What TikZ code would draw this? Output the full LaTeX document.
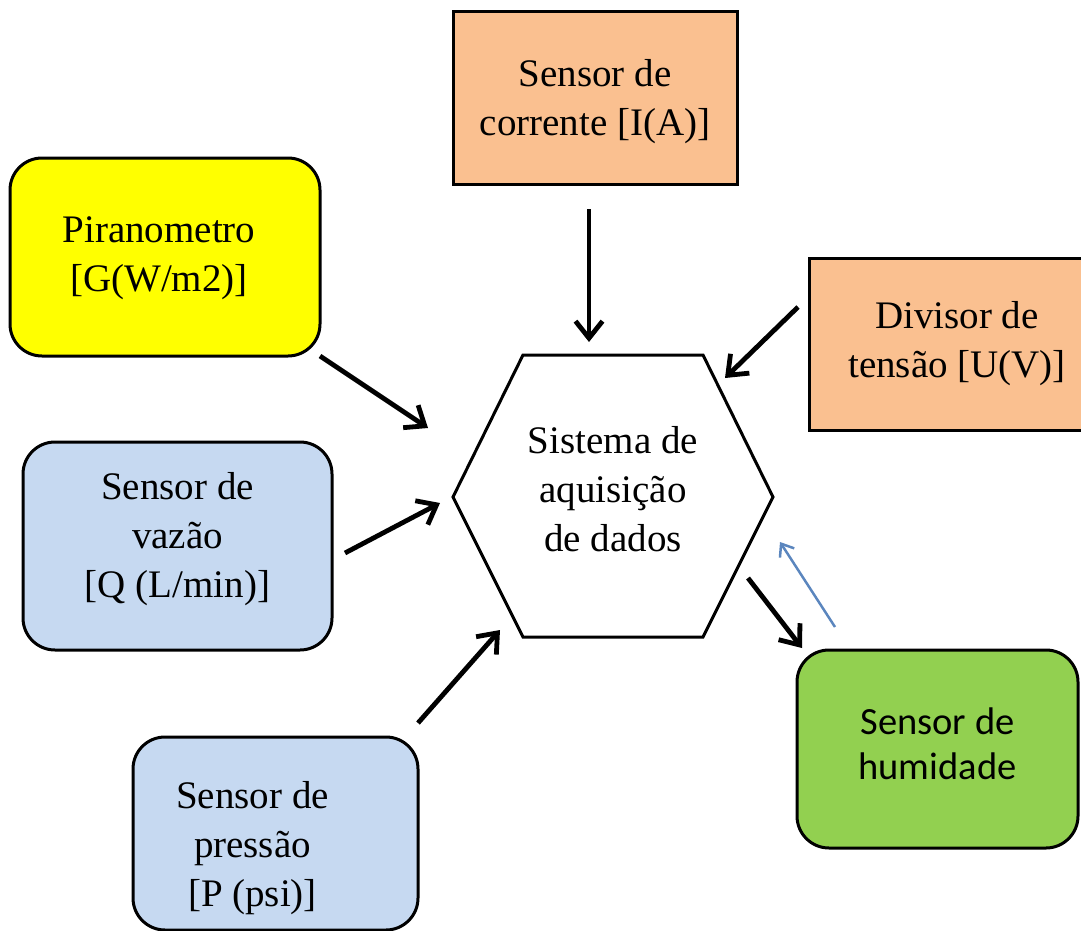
\documentclass[tikz,border=0pt]{standalone}
\usepackage{fontspec}
\setmainfont{Liberation Serif}
\newfontfamily\calibrifont{Carlito}
\usetikzlibrary{arrows.meta}

\definecolor{peach}{HTML}{FAC090}
\definecolor{sunyellow}{HTML}{FFFF00}
\definecolor{paleblue}{HTML}{C6D9F1}
\definecolor{leafgreen}{HTML}{92D050}
\definecolor{linkblue}{HTML}{5B86BE}

\tikzset{
  box/.style={draw=black, line width=3pt, minimum width=#1, inner sep=0pt},
  sqbox/.style={box=#1, rectangle},
  rbox/.style={box=#1, rectangle, rounded corners=32pt},
  label/.style={font=\fontsize{39pt}{49pt}\selectfont, align=center, text=black},
  feed/.style={line width=4.8pt, -{Straight Barb[length=17pt,width=27pt]}},
  reply/.style={line width=2.5pt, draw=linkblue, -{Straight Barb[length=11pt,width=17pt]}},
}

\begin{document}
\begin{tikzpicture}[x=1pt, y=-1pt]
  \useasboundingbox (0,0) rectangle (1081,931);
  \clip (0,0) rectangle (1081,931);

  % sensor boxes (tabular spacing nudges the text within each box)
  \node[sqbox=284pt, minimum height=172pt, fill=peach, label] (corrente) at (595,98)
    {\begin{tabular}{@{}c@{}}\rule{0pt}{40pt}Sensor de\\corrente [I(A)]\end{tabular}};
  \node[rbox=310pt, minimum height=198pt, fill=sunyellow, label] (piran) at (165,257)
    {\begin{tabular}{@{}c@{}}Piranometro\\{[G(W/m2)]}\end{tabular}\hspace{12pt}};
  \node[sqbox=296pt, minimum height=172pt, fill=peach, label] (divisor) at (957,344)
    {Divisor de\\tensão [U(V)]};
  \node[rbox=309pt, minimum height=208pt, fill=paleblue, label] (vazao) at (177.5,546)
    {\begin{tabular}{@{}c@{}}Sensor de\\vazão\\{[Q (L/min)]}\\[14pt]\end{tabular}};
  \node[rbox=285pt, minimum height=193pt, fill=paleblue, label] (pressao) at (275.5,833.5)
    {\begin{tabular}{@{}c@{}}\rule{0pt}{62pt}Sensor de\\pressão\\{[P (psi)]}\end{tabular}\hspace{46pt}};
  \node[rbox=281pt, minimum height=198pt, fill=leafgreen, align=center,
        font=\calibrifont\fontsize{38.5pt}{45pt}\selectfont] (humid) at (937.5,749)
    {\begin{tabular}{@{}c@{}}Sensor de\\humidade\\[3pt]\end{tabular}};

  % acquisition hexagon
  \draw[line width=3pt, fill=white, line join=miter]
    (453,497) -- (523,355) -- (703,355) -- (773,497) -- (703,637) -- (523,637) -- cycle;
  \node[label] (hex) at (613,489) {Sistema de\\aquisição\\de dados};

  % connector end points
  \coordinate (c1) at (589,209);  \coordinate (h1) at (589,342);
  \coordinate (c2) at (798,307);  \coordinate (h2) at (725,378);
  \coordinate (c3) at (320,356);  \coordinate (h3) at (428,428);
  \coordinate (c4) at (345,553);  \coordinate (h4) at (440,503);
  \coordinate (c5) at (418,723);  \coordinate (h5) at (500,630);
  \coordinate (h6) at (748,578);  \coordinate (c6) at (802,648);
  \coordinate (c7) at (835,627);  \coordinate (h7) at (780,542);

  % signal flow
  \draw[feed] (c1) -- (h1);
  \draw[feed] (c2) -- (h2);
  \draw[feed] (c3) -- (h3);
  \draw[feed] (c4) -- (h4);
  \draw[feed] (c5) -- (h5);
  \draw[feed] (h6) -- (c6);
  \draw[reply] (c7) -- (h7);
\end{tikzpicture}
\end{document}
